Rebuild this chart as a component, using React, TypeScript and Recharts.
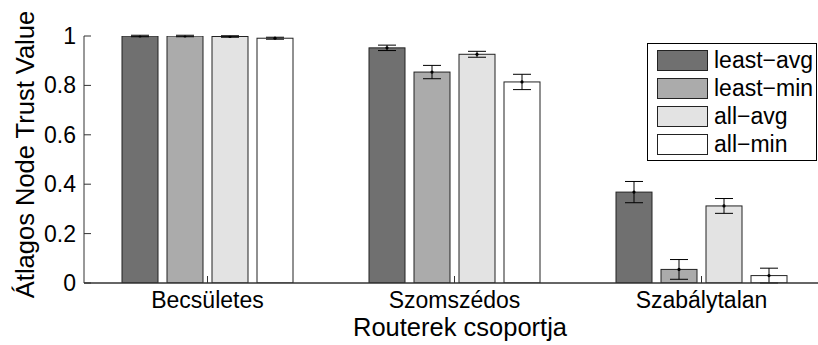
import React from 'react';
import { BarChart, Bar, XAxis, YAxis, ErrorBar, Legend } from 'recharts';

const categories = ['Becsületes', 'Szomszédos', 'Szabálytalan'];

const leastAvg = [1.0, 0.952, 0.368];
const leastAvgErr = [0.003, 0.011, 0.043];
const leastMin = [1.0, 0.854, 0.055];
const leastMinErr = [0.003, 0.027, 0.04];
const allAvg = [0.998, 0.926, 0.312];
const allAvgErr = [0.003, 0.012, 0.03];
const allMin = [0.991, 0.814, 0.03];
const allMinErr = [0.004, 0.031, 0.03];

const yTicks = [0, 0.2, 0.4, 0.6, 0.8, 1];

const series = [
    { key: 'leastAvg', name: 'least\u2212avg', color: '#707070' },
    { key: 'leastMin', name: 'least\u2212min', color: '#ababab' },
    { key: 'allAvg', name: 'all\u2212avg', color: '#e3e3e3' },
    { key: 'allMin', name: 'all\u2212min', color: '#ffffff' },
];

const data = categories.map((name, i) => ({
    name,
    leastAvg: leastAvg[i],
    leastAvgErr: leastAvgErr[i],
    leastMin: leastMin[i],
    leastMinErr: leastMinErr[i],
    allAvg: allAvg[i],
    allAvgErr: allAvgErr[i],
    allMin: allMin[i],
    allMinErr: allMinErr[i],
}));

const FONT = '"Liberation Sans", Arial, Helvetica, sans-serif';

const BarShape = (p: any) => (
    <g>
        <rect x={p.x} y={p.y} width={p.width} height={p.height} fill={p.fill} stroke="#222" strokeWidth={1} />
        <circle cx={p.x + p.width / 2} cy={p.y} r={1.6} fill="#000" />
    </g>
);

const XTick = (p: any) => (
    <g>
        <line x1={p.x} x2={p.x} y1={p.y} y2={p.y - 7} stroke="#333" />
        <text x={p.x} y={p.y + 25} textAnchor="middle" fontSize={23} fontFamily={FONT} fill="#000">
            {p.payload.value}
        </text>
    </g>
);

const YTick = (p: any) => (
    <g>
        <line x1={p.x} x2={p.x + 7} y1={p.y} y2={p.y} stroke="#333" />
        <text x={p.x - 8} y={p.y} dy="0.35em" textAnchor="end" fontSize={23} fontFamily={FONT} fill="#000">
            {String(p.payload.value)}
        </text>
    </g>
);

const LegendBox = () => (
    <div
        style={{
            position: 'relative',
            width: 168,
            height: 116,
            border: '1px solid #000',
            background: '#fff',
            fontFamily: FONT,
            fontSize: 23,
        }}
    >
        {series.map((s, i) => (
            <div key={s.key} style={{ position: 'absolute', left: 9, top: 6 + i * 28, display: 'flex', alignItems: 'center', height: 21 }}>
                <div style={{ width: 49, height: 19, background: s.color, border: '1px solid #222' }} />
                <span style={{ marginLeft: 6, lineHeight: '21px', color: '#000', whiteSpace: 'nowrap' }}>{s.name}</span>
            </div>
        ))}
    </div>
);

const App: React.FC = () => {
    return (
        <div style={{ position: 'absolute', left: 0, top: 0, width: 818, height: 345, overflow: 'hidden', background: '#fff' }}>
            <BarChart
                width={830}
                height={345}
                data={data}
                margin={{ top: 36, right: 5, left: 24, bottom: 0 }}
                barSize={36}
                barGap={9}
            >
                <XAxis
                    dataKey="name"
                    height={62}
                    tickSize={0}
                    tickMargin={0}
                    tickLine={false}
                    axisLine={{ stroke: '#333', strokeWidth: 1.5 }}
                    tick={<XTick />}
                    interval={0}
                    label={{
                        content: () => (
                            <text x={460} y={336} textAnchor="middle" fontSize={25.5} fontFamily={FONT} fill="#000">
                                Routerek csoportja
                            </text>
                        ),
                    }}
                />
                <YAxis
                    width={60}
                    domain={[0, 1]}
                    ticks={yTicks}
                    allowDataOverflow
                    tickSize={0}
                    tickMargin={0}
                    tickLine={false}
                    axisLine={{ stroke: '#333', strokeWidth: 1 }}
                    tick={<YTick />}
                    label={{
                        content: () => (
                            <text
                                x={33.5}
                                y={154.5}
                                transform="rotate(-90, 33.5, 154.5)"
                                textAnchor="middle"
                                fontSize={25.5}
                                fontFamily={FONT}
                                fill="#000"
                            >
                                Átlagos Node Trust Value
                            </text>
                        ),
                    }}
                />
                <Legend
                    layout="vertical"
                    align="center"
                    verticalAlign="middle"
                    wrapperStyle={{ left: 647, top: 43, width: 170 }}
                    content={<LegendBox />}
                />
                {series.map((s) => (
                    <Bar
                        key={s.key}
                        dataKey={s.key}
                        name={s.name}
                        fill={s.color}
                        shape={<BarShape />}
                        isAnimationActive={false}
                    >
                        <ErrorBar dataKey={`${s.key}Err`} width={9} stroke="#000" strokeWidth={1} direction="y" />
                    </Bar>
                ))}
            </BarChart>
        </div>
    );
};

export default App;
